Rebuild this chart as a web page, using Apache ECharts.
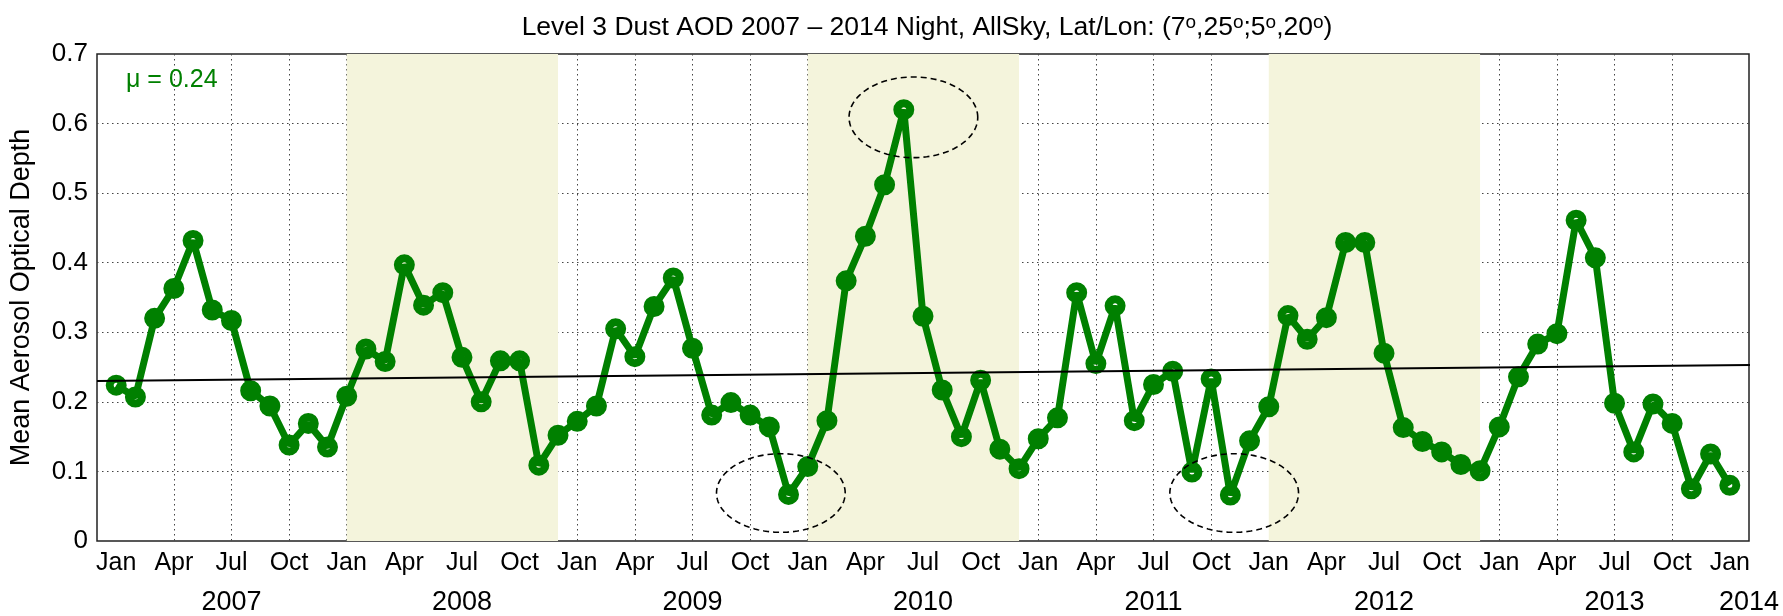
<!DOCTYPE html>
<html>
<head>
<meta charset="utf-8">
<script src="https://cdn.jsdelivr.net/npm/echarts@6/dist/echarts.min.js"></script>
<style>
  html, body { margin: 0; padding: 0; background: #fff; }
  #chart { width: 1783px; height: 616px; }
</style>
</head>
<body>
<div id="chart"></div>
<script>
// Monthly mean dust aerosol optical depth (night, all-sky), Jan 2007 – Jan 2014
const aod2007 = [0.224, 0.207, 0.320, 0.363, 0.432, 0.332, 0.317, 0.216, 0.194, 0.138, 0.169, 0.135];
const aod2008 = [0.208, 0.276, 0.258, 0.397, 0.339, 0.357, 0.264, 0.200, 0.259, 0.259, 0.109, 0.152];
const aod2009 = [0.172, 0.194, 0.305, 0.265, 0.337, 0.378, 0.277, 0.181, 0.199, 0.181, 0.164, 0.067];
const aod2010 = [0.107, 0.173, 0.374, 0.438, 0.512, 0.620, 0.323, 0.217, 0.150, 0.231, 0.132, 0.104];
const aod2011 = [0.147, 0.177, 0.357, 0.255, 0.338, 0.173, 0.225, 0.244, 0.099, 0.233, 0.066, 0.144];
const aod2012 = [0.193, 0.324, 0.290, 0.321, 0.429, 0.429, 0.270, 0.163, 0.143, 0.128, 0.110, 0.101];
const aod2013 = [0.164, 0.236, 0.283, 0.298, 0.461, 0.407, 0.198, 0.128, 0.197, 0.169, 0.075, 0.125];
const aod2014 = [0.080];

// x positions are months counted from Jan 2007
const quarterNames = ['Jan', 'Apr', 'Jul', 'Oct'];
const yearLabels = ['2007', '2008', '2009', '2010', '2011', '2012', '2013', '2014'];
const yearLabelMonths = [6, 18, 30, 42, 54, 66, 78, 85];

// shaded years (2008, 2010, 2012) as [first month, last month]
const shadedYears = [[12, 23], [36, 47], [60, 71]];

// linear trend, end points in (month, AOD)
const trendLine = [[-1, 0.230], [85.6, 0.253]];
const meanText = 'μ = 0.24';

// dashed highlight ellipses: [centre month, centre AOD, width in months, height in AOD]
const highlights = [
  [34.6, 0.069, 6.7, 0.113],
  [41.5, 0.609, 6.7, 0.116],
  [58.2, 0.069, 6.7, 0.113]
];

const aodMonthly = [].concat(aod2007, aod2008, aod2009, aod2010, aod2011, aod2012, aod2013, aod2014);
const seriesData = aodMonthly.map((v, i) => [i, v]);
const lastMonth = aodMonthly.length - 1;
const quarterTicks = [];
for (let m = 0; m <= lastMonth; m += 3) quarterTicks.push(m);

const FONT = '"Liberation Sans", Arial, Helvetica, sans-serif';
const GREEN = '#008000';

const chart = echarts.init(document.getElementById('chart'), null, { renderer: 'canvas' });

chart.setOption({
  animation: false,
  backgroundColor: '#fff',
  textStyle: { fontFamily: FONT, color: '#000' },
  title: {
    text: '{t|Level 3 Dust AOD 2007 – 2014 Night, AllSky, Lat/Lon: (7}{s|o}{t|,25}{s|o}{t|;5}{s|o}{t|,20}{s|o}{t|)}',
    left: 922,
    top: 8,
    textAlign: 'center',
    textStyle: {
      fontFamily: FONT, fontSize: 26, fontWeight: 'normal', color: '#000',
      rich: {
        t: { fontFamily: FONT, fontSize: 26.5, color: '#000', lineHeight: 30, verticalAlign: 'middle' },
        s: { fontFamily: FONT, fontSize: 19, color: '#000', lineHeight: 14, verticalAlign: 'top' }
      }
    }
  },
  grid: {
    left: 96, right: 34, top: 54, bottom: 74,
    show: true, borderColor: '#222', borderWidth: 1.5, backgroundColor: 'transparent'
  },
  graphic: [{
    type: 'text', left: 126, top: 68, z: 10,
    style: { text: meanText, fill: GREEN, font: '25px ' + FONT }
  }],
  xAxis: [{
    type: 'value', min: -1, max: 85,
    axisLine: { show: false },
    axisTick: { show: false, customValues: quarterTicks },
    axisLabel: {
      customValues: quarterTicks,
      margin: 10, fontSize: 25, color: '#000', fontFamily: FONT,
      formatter: v => quarterNames[Math.round(v) % 12 / 3]
    },
    splitLine: {
      show: true, showMinLine: false, showMaxLine: false,
      lineStyle: { color: '#444', width: 1, type: [1.5, 3.5] }
    }
  }, {
    type: 'value', min: -1, max: 85, position: 'bottom',
    axisLine: { show: false },
    axisTick: { show: false },
    splitLine: { show: false },
    axisLabel: {
      customValues: yearLabelMonths,
      margin: 48, fontSize: 27, color: '#000', fontFamily: FONT,
      formatter: v => yearLabels[yearLabelMonths.indexOf(v)] || ''
    }
  }],
  yAxis: {
    type: 'value', min: 0, max: 0.7, interval: 0.1,
    name: 'Mean Aerosol Optical Depth',
    nameLocation: 'middle', nameGap: 62,
    nameTextStyle: { fontSize: 27, color: '#000', fontFamily: FONT },
    axisLine: { show: false },
    axisTick: { show: false },
    axisLabel: {
      margin: 9, fontSize: 26, color: '#000', fontFamily: FONT,
      formatter: v => (v === 0 ? '0' : v.toFixed(1))
    },
    splitLine: {
      show: true, showMinLine: false, showMaxLine: false,
      lineStyle: { color: '#444', width: 1, type: [1.5, 3.5] }
    }
  },
  series: [
    {
      // shaded years
      type: 'line', data: [], z: -1, silent: true,
      markArea: {
        silent: true,
        itemStyle: { color: '#f4f4dc' },
        data: shadedYears.map(b => [{ xAxis: b[0] }, { xAxis: b[1] }])
      }
    },
    {
      type: 'line', name: 'AOD', data: seriesData, z: 2,
      symbol: 'circle', symbolSize: 13,
      itemStyle: { color: 'rgba(0,0,0,0)', borderColor: GREEN, borderWidth: 8 },
      lineStyle: { color: GREEN, width: 7 },
      silent: true
    },
    {
      type: 'line', name: 'trend', data: trendLine, z: 3, clip: false,
      symbol: 'none', silent: true,
      lineStyle: { color: '#000', width: 2 }
    },
    {
      type: 'custom', name: 'highlights', data: highlights, z: 4, silent: true,
      encode: { x: 0, y: 1 },
      renderItem: (params, api) => {
        const cx = api.value(0), cy = api.value(1);
        const rx = api.value(2) / 2, ry = api.value(3) / 2;
        const pts = [];
        for (let k = 0; k < 120; k++) {
          const t = k / 120 * 2 * Math.PI;
          pts.push(api.coord([cx + rx * Math.cos(t), cy + ry * Math.sin(t)]));
        }
        return {
          type: 'polygon', shape: { points: pts },
          style: { fill: 'none', stroke: '#000', lineWidth: 1.6, lineDash: [6, 4] }
        };
      }
    }
  ]
});
</script>
</body>
</html>
